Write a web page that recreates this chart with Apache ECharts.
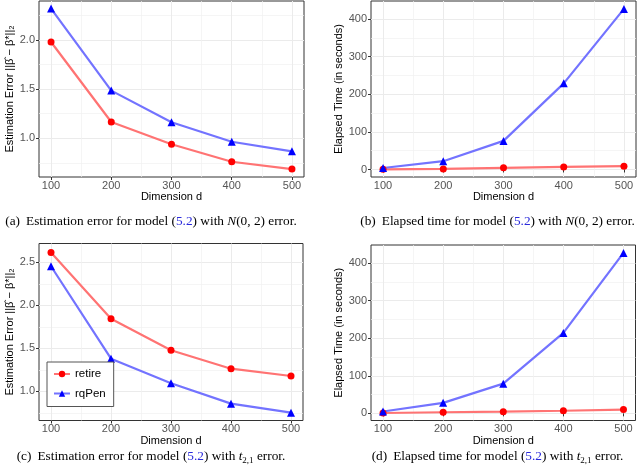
<!DOCTYPE html>
<html><head><meta charset="utf-8">
<script src="https://cdn.jsdelivr.net/npm/echarts@6/dist/echarts.min.js"></script>
<style>html,body{margin:0;padding:0;background:#fff}#c{width:640px;height:472px}</style>
</head><body><div id="c"></div>
<script>
// ---- data ----
const dims = [100, 200, 300, 400, 500];
const errNormalRetire = [1.98, 1.166, 0.939, 0.761, 0.687];
const errNormalRqPen  = [2.32, 1.485, 1.163, 0.965, 0.867];
const timeNormalRetire = [0.3, 1.6, 4.3, 6.9, 8.8];
const timeNormalRqPen  = [4, 22, 76, 229, 427];
const errTRetire = [2.616, 1.844, 1.477, 1.263, 1.178];
const errTRqPen  = [2.455, 1.379, 1.093, 0.856, 0.751];
const timeTRetire = [1, 3, 4.5, 7, 10];
const timeTRqPen  = [5, 28, 79, 214, 427];
const xTicks = [100, 200, 300, 400, 500];
const xMinorTicks = [150, 250, 350, 450];
const yTicksErrA = [1.0, 1.5, 2.0];
const yTicksErrC = [1.0, 1.5, 2.0, 2.5];
const yMinorErr = [0.75, 1.25, 1.75, 2.25];
const yTicksTime = [0, 100, 200, 300, 400];
const yMinorTime = [50, 150, 250, 350];
const seriesNames = ['retire', 'rqPen'];

const errName = 'Estimation Error ||β̂ − β*||₂';
const timeName = 'Elapsed Time (in seconds)';

const panels = [
  {grid:{left:39, top:1, width:265, height:176}, yMin:0.606, yMax:2.397, yTicks:yTicksErrA, yMinor:yMinorErr, name:errName, dec:1, retire:errNormalRetire, rqpen:errNormalRqPen, nameGap:24},
  {grid:{left:371, top:1, width:265, height:176}, yMin:-20, yMax:448, yTicks:yTicksTime, yMinor:yMinorTime, name:timeName, dec:0, retire:timeNormalRetire, rqpen:timeNormalRqPen, nameGap:23},
  {grid:{left:39, top:243.5, width:264, height:177}, yMin:0.66, yMax:2.72, yTicks:yTicksErrC, yMinor:yMinorErr, name:errName, dec:1, retire:errTRetire, rqpen:errTRqPen, nameGap:24},
  {grid:{left:371, top:245, width:264.5, height:175.5}, yMin:-19, yMax:448, yTicks:yTicksTime, yMinor:yMinorTime, name:timeName, dec:0, retire:timeTRetire, rqpen:timeTRqPen, nameGap:23}
];

const sans = 'Liberation Sans, Arial, sans-serif';
const serif = 'Liberation Serif, Times New Roman, serif';
const grids = [], xAxes = [], yAxes = [], series = [];
panels.forEach((p, gi) => {
  grids.push(Object.assign({show:true, borderColor:'#333', borderWidth:1, backgroundColor:'#fff', containLabel:false}, p.grid));
  xAxes.push({type:'value', gridIndex:gi, min:80, max:520, position:'bottom',
    axisLine:{show:false},
    axisTick:{show:true, length:3, lineStyle:{color:'#333'}, customValues:xTicks},
    axisLabel:{customValues:xTicks, color:'#555', fontSize:11, fontFamily:sans, margin:3},
    splitLine:{show:true, lineStyle:{color:'#ebebeb', width:1}},
    name:'Dimension d', nameLocation:'middle', nameGap:14,
    nameTextStyle:{color:'#000', fontSize:11, fontFamily:sans}});
  xAxes.push({type:'value', gridIndex:gi, min:80, max:520, position:'top',
    axisLine:{show:false}, axisTick:{show:false, customValues:xMinorTicks},
    axisLabel:{show:false, customValues:xMinorTicks},
    splitLine:{show:true, lineStyle:{color:'#f1f1f1', width:0.7}}});
  yAxes.push({type:'value', gridIndex:gi, min:p.yMin, max:p.yMax, position:'left',
    axisLine:{show:false},
    axisTick:{show:true, length:3, lineStyle:{color:'#333'}, customValues:p.yTicks},
    axisLabel:{customValues:p.yTicks, color:'#555', fontSize:11, fontFamily:sans, margin:4,
      formatter:v => Number(v).toFixed(p.dec)},
    splitLine:{show:true, lineStyle:{color:'#ebebeb', width:1}},
    name:p.name, nameLocation:'middle', nameGap:p.nameGap, nameRotate:90,
    nameTextStyle:{color:'#000', fontSize:11, fontFamily:sans}});
  yAxes.push({type:'value', gridIndex:gi, min:p.yMin, max:p.yMax, position:'right',
    axisLine:{show:false}, axisTick:{show:false, customValues:p.yMinor},
    axisLabel:{show:false, customValues:p.yMinor},
    splitLine:{show:true, lineStyle:{color:'#f1f1f1', width:0.7}}});
  series.push({type:'line', name:seriesNames[0], xAxisIndex:2*gi, yAxisIndex:2*gi,
    data:dims.map((d,i)=>[d, p.retire[i]]), symbol:'circle', symbolSize:7,
    itemStyle:{color:'#ff0000'}, lineStyle:{color:'#ff7373', width:2.2}, emphasis:{disabled:true}});
  series.push({type:'line', name:seriesNames[1], xAxisIndex:2*gi, yAxisIndex:2*gi,
    data:dims.map((d,i)=>[d, p.rqpen[i]]), symbol:'triangle', symbolSize:8,
    itemStyle:{color:'#0000ff'}, lineStyle:{color:'#7373ff', width:2.2}, emphasis:{disabled:true}});
});

const fs = 13.3;
const capRich = {
  n:{fill:'#000', fontFamily:serif, fontSize:fs, lineHeight:16, verticalAlign:'middle'},
  l:{fill:'#000', fontFamily:serif, fontSize:fs, lineHeight:16, verticalAlign:'middle', padding:[0,6,0,0]},
  b:{fill:'#2a2adb', fontFamily:serif, fontSize:fs, lineHeight:16, verticalAlign:'middle'},
  i:{fill:'#000', fontFamily:serif, fontSize:fs, lineHeight:16, verticalAlign:'middle', fontStyle:'italic'},
  s:{fill:'#000', fontFamily:serif, fontSize:9, lineHeight:9, verticalAlign:'bottom'}
};
function caption(x, y, text) {
  return {type:'text', x:x, y:y, silent:true,
    style:{text:text, rich:capRich, align:'center', verticalAlign:'middle', fill:'#000', font:fs + 'px ' + serif}};
}
const graphics = [
  caption(151, 222, '{l|(a)}{n|Estimation error for model (}{b|5.2}{n|) with }{i|N}{n|(0, 2) error.}'),
  caption(497.5, 222, '{l|(b)}{n|Elapsed time for model (}{b|5.2}{n|) with }{i|N}{n|(0, 2) error.}'),
  caption(151, 457, '{l|(c)}{n|Estimation error for model (}{b|5.2}{n|) with }{i|t}{s|2,1}{n| error.}'),
  caption(497.5, 457, '{l|(d)}{n|Elapsed time for model (}{b|5.2}{n|) with }{i|t}{s|2,1}{n| error.}')
];

const chart = echarts.init(document.getElementById('c'), null, {renderer:'canvas'});
chart.setOption({
  animation:false,
  backgroundColor:'#fff',
  grid:grids, xAxis:xAxes, yAxis:yAxes, series:series,
  legend:{data:seriesNames, orient:'vertical', left:47, top:362, padding:[6,8,7,6],
    itemWidth:16, itemHeight:8, itemGap:7.5, borderColor:'#555', borderWidth:1, borderRadius:0,
    backgroundColor:'#fff', textStyle:{fontSize:11.5, fontFamily:sans, color:'#000'}, selectedMode:false},
  graphic:graphics
});
</script></body></html>
